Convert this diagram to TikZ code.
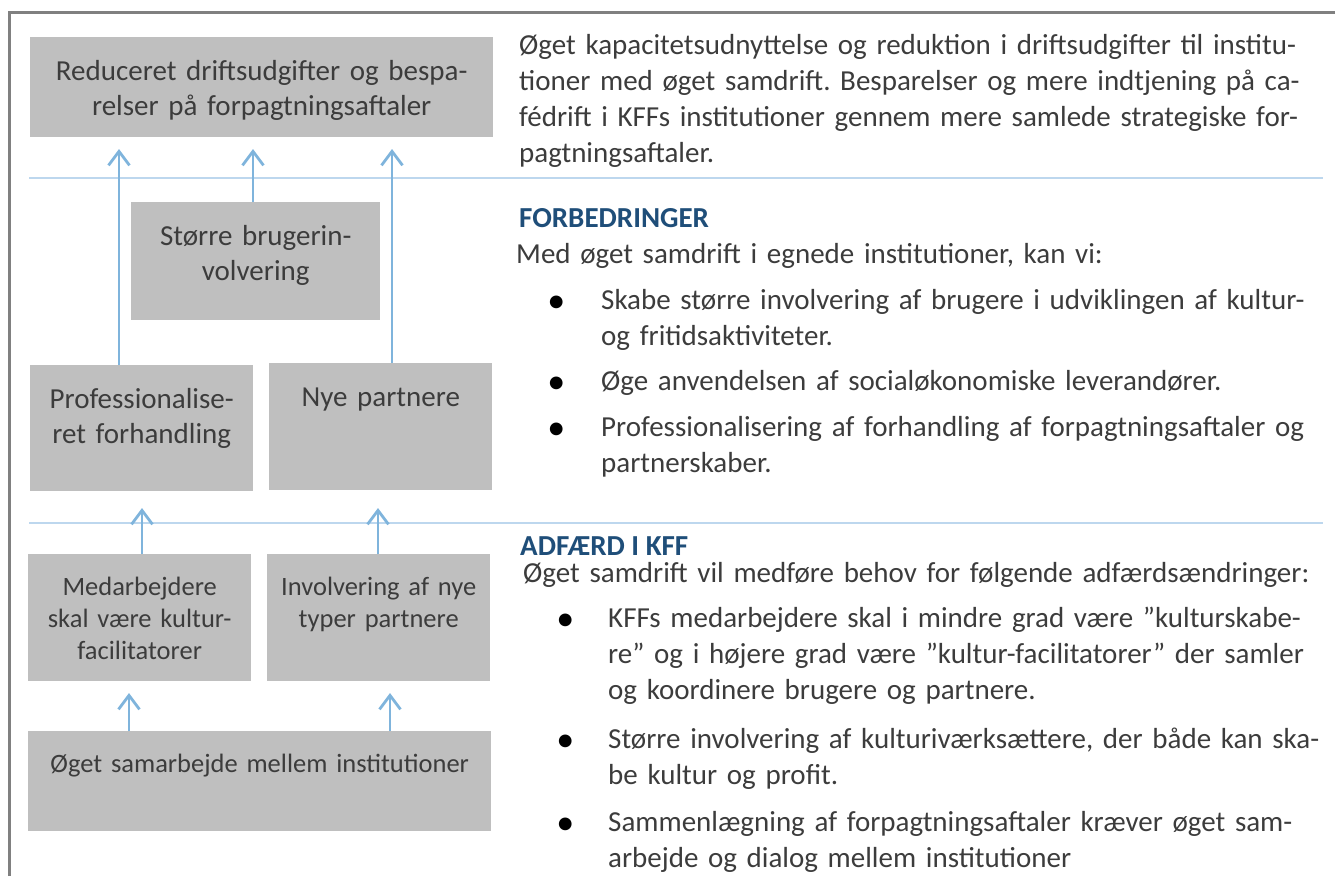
\documentclass[tikz,border=0pt]{standalone}
\usepackage{fontspec}
\setmainfont{Carlito}
\usetikzlibrary{arrows.meta}

\definecolor{boxgray}{HTML}{BFBFBF}
\definecolor{ink}{HTML}{3C3C3C}
\definecolor{arrowblue}{HTML}{7FB4DC}
\definecolor{ruleblue}{HTML}{BDD7EE}
\definecolor{headblue}{HTML}{1F4E79}
\definecolor{framegray}{HTML}{808080}
\newcommand{\dotitem}[1]{\leavevmode\llap{\raisebox{-3pt}{\textcolor{black}{\fontsize{36}{36}\selectfont•}}\hspace{#1}}}
\frenchspacing

\begin{document}
\begin{tikzpicture}[x=1pt,y=-1pt]
    \tikzstyle{every node}+=[inner sep=0pt]
    \tikzstyle{box}=[fill=boxgray, text=ink, anchor=north west, align=center, font=\fontsize{29}{35}\selectfont, text height=43pt]
    \tikzstyle{smallbox}=[box, font=\fontsize{26.5}{32}\selectfont, text height=41pt]
    \tikzstyle{body}=[text=ink, anchor=base west, align=left, font=\fontsize{29}{36}\selectfont]
    \tikzstyle{head}=[text=headblue, anchor=base west, font=\bfseries\fontsize{29}{35}\selectfont]
    \tikzstyle{flow}=[draw=arrowblue, line width=2.8pt, -{Straight Barb[length=14pt,width=21pt]}]
    \useasboundingbox (0,0) rectangle (1335,876);
    \draw [framegray, line width=2.5pt] (9.5,876) -- (9.5,12.5) -- (1335,12.5);
    \draw [ruleblue, line width=1.8pt] (29,178) -- (1323,178);
    \draw [ruleblue, line width=1.8pt] (29,523) -- (1323,523);
    \node [box, text width=463pt, text depth=57pt] (goal) at (30,37) {Reduceret driftsudgifter og bespa-\\relser på forpagtningsaftaler};
    \node [box, text width=249pt, text depth=75pt] (users) at (131,202) {Større brugerin-\\volvering};
    \node [box, text width=223pt, text depth=83pt] (prof) at (30,365) {Professionalise-\\ret forhandling};
    \node [box, text width=223pt, text depth=84pt] (partners) at (269,363) {Nye partnere};
    \node [smallbox, text width=223pt, text depth=86pt] (staff) at (28,554) {Medarbejdere\\skal være kultur-\\facilitatorer};
    \node [smallbox, text width=223pt, text depth=86pt] (newtypes) at (267,554) {Involvering af nye\\typer partnere};
    \node [smallbox, text width=463pt, text depth=59pt] (base) at (28,731) {Øget samarbejde mellem institutioner};
    \coordinate (tipA) at (119,149);
    \coordinate (tipB) at (253,149);
    \coordinate (tipC) at (392,149);
    \coordinate (tipD) at (142,508);
    \coordinate (tipE) at (378,508);
    \coordinate (tipF) at (129,693);
    \coordinate (tipG) at (390,693);
    \draw [flow] (prof.north -| tipA) -- (tipA);
    \draw [flow] (users.north -| tipB) -- (tipB);
    \draw [flow] (partners.north -| tipC) -- (tipC);
    \draw [flow] (staff.north -| tipD) -- (tipD);
    \draw [flow] (newtypes.north -| tipE) -- (tipE);
    \draw [flow] (base.north -| tipF) -- (tipF);
    \draw [flow] (base.north -| tipG) -- (tipG);
    \node [body, text width=800pt] (summary) at (519,54) {Øget kapacitetsudnyttelse og reduktion i driftsudgifter til institu-\\tioner med øget samdrift. Besparelser og mere indtjening på ca-\\fédrift i KFFs institutioner gennem mere samlede strategiske for-\\pagtningsaftaler.};
    \node [head] (improve) at (519,227) {FORBEDRINGER};
    \node [body, text width=800pt] (improveintro) at (516,263) {Med øget samdrift i egnede institutioner, kan vi:};
    \node [body, text width=720pt] (imp1) at (601,309) {\dotitem{36pt}Skabe større involvering af brugere i udviklingen af kultur-\\og fritidsaktiviteter.};
    \node [body, text width=720pt] (imp2) at (601,390) {\dotitem{36pt}Øge anvendelsen af socialøkonomiske leverandører.};
    \node [body, text width=720pt] (imp3) at (601,436) {\dotitem{36pt}Professionalisering af forhandling af forpagtningsaftaler og\\partnerskaber.};
    \node [head] (conduct) at (520,555) {ADFÆRD I KFF};
    \node [body, text width=800pt] (conductintro) at (523,582) {Øget samdrift vil medføre behov for følgende adfærdsændringer:};
    \node [body, text width=720pt] (con1) at (608,627) {\dotitem{34pt}KFFs medarbejdere skal i mindre grad være ”kulturskabe-\\re” og i højere grad være ”kultur-facilitatorer” der samler\\og koordinere brugere og partnere.};
    \node [body, text width=720pt] (con2) at (608,748) {\dotitem{34pt}Større involvering af kulturiværksættere, der både kan ska-\\be kultur og profit.};
    \node [body, text width=720pt] (con3) at (608,831) {\dotitem{34pt}Sammenlægning af forpagtningsaftaler kræver øget sam-\\arbejde og dialog mellem institutioner};
\end{tikzpicture}
\end{document}
